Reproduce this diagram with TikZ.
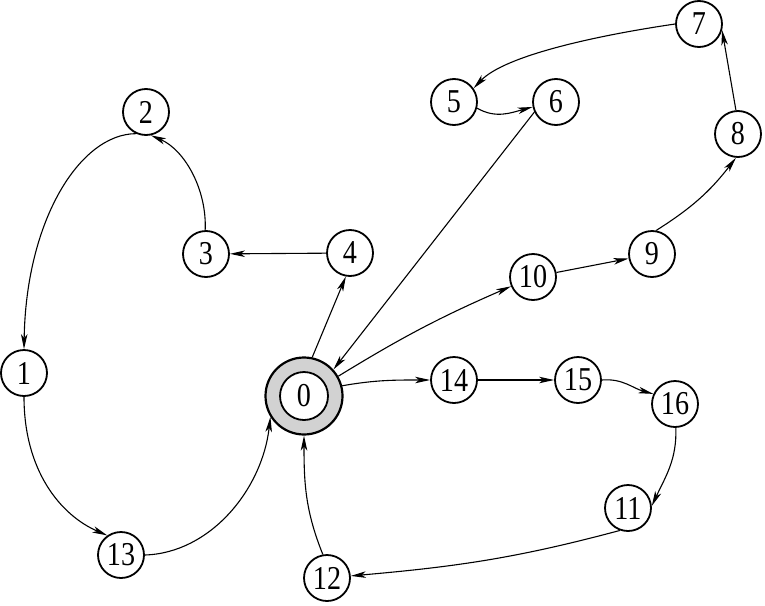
\documentclass[tikz,border=0pt]{standalone}
\usepackage{fontspec}
\setmainfont{Liberation Serif}
\usetikzlibrary{arrows.meta}
\newcommand\lbl[1]{\scalebox{0.97}[1.15]{#1}}
\begin{document}
\begin{tikzpicture}[x=1pt,y=1pt,
  st/.style={circle,draw,line width=1.8pt,minimum size=46pt,inner sep=0pt,font=\fontsize{29}{29}\selectfont},
  edge/.style={line width=1.1pt,-{Stealth[length=15pt,width=6.5pt,inset=4pt]}},
]
\useasboundingbox (0,0) rectangle (765,-605);
% center node
\node[circle,draw,line width=2.2pt,fill=gray!35,minimum size=77pt,inner sep=0pt] (0) at (304,-396) {};
\node[st,fill=white,minimum size=48pt] (0in) at (304,-396) {\lbl{0}};
% other states
\node[st] (1) at (24,-373) {\lbl{1}};
\node[st] (2) at (146,-112) {\lbl{2}};
\node[st] (3) at (206,-254) {\lbl{3}};
\node[st] (4) at (350,-253) {\lbl{4}};
\node[st] (5) at (454,-102) {\lbl{5}};
\node[st] (6) at (556,-102) {\lbl{6}};
\node[st] (7) at (699,-24) {\lbl{7}};
\node[st] (8) at (738,-134) {\lbl{8}};
\node[st] (9) at (652,-254) {\lbl{9}};
\node[st] (10) at (533,-277) {\lbl{10}};
\node[st] (11) at (628,-508) {\lbl{11}};
\node[st] (12) at (327,-578) {\lbl{12}};
\node[st] (13) at (121,-555) {\lbl{13}};
\node[st] (14) at (454,-380) {\lbl{14}};
\node[st] (15) at (578,-380) {\lbl{15}};
\node[st] (16) at (675,-404) {\lbl{16}};
% edges
\draw[edge] (0.78) -- (4.-100);
\draw[edge] (4) -- (3);
\draw[edge] (3.92) .. controls (207,-190) and (185,-150) .. (2.-78);
\draw[edge] (2.245) .. controls (80,-134) and (26,-220) .. (1.north);
\draw[edge] (1.south) .. controls (24,-470) and (60,-515) .. (13.125);
\draw[edge] (13.east) .. controls (210,-553) and (262,-490) .. (0.212);
\draw[edge] (0.30) to[bend left=4] (10);
\draw[edge] (10) -- (9);
\draw[edge] (9.80) to[bend right=10] (8.-95);
\draw[edge] (8.95) -- (7.-15);
\draw[edge] (7.180) .. controls (600,-35) and (505,-55) .. (5.35);
\draw[edge] (5.-15) to[out=-30,in=195] (6.192);
\draw[edge] (6.205) -- (0.42);
\draw[edge] (0.15) to[out=10,in=180] (14);
\draw[edge] (14) -- (15);
\draw[edge] (15.east) to[out=5,in=165] (16.155);
\draw[edge] (16.-88) to[out=-88,in=65] (11.5);
\draw[edge] (11.250) to[out=195,in=5] (12);
\draw[edge] (12.100) to[out=112,in=-90] (0);
\end{tikzpicture}
\end{document}
